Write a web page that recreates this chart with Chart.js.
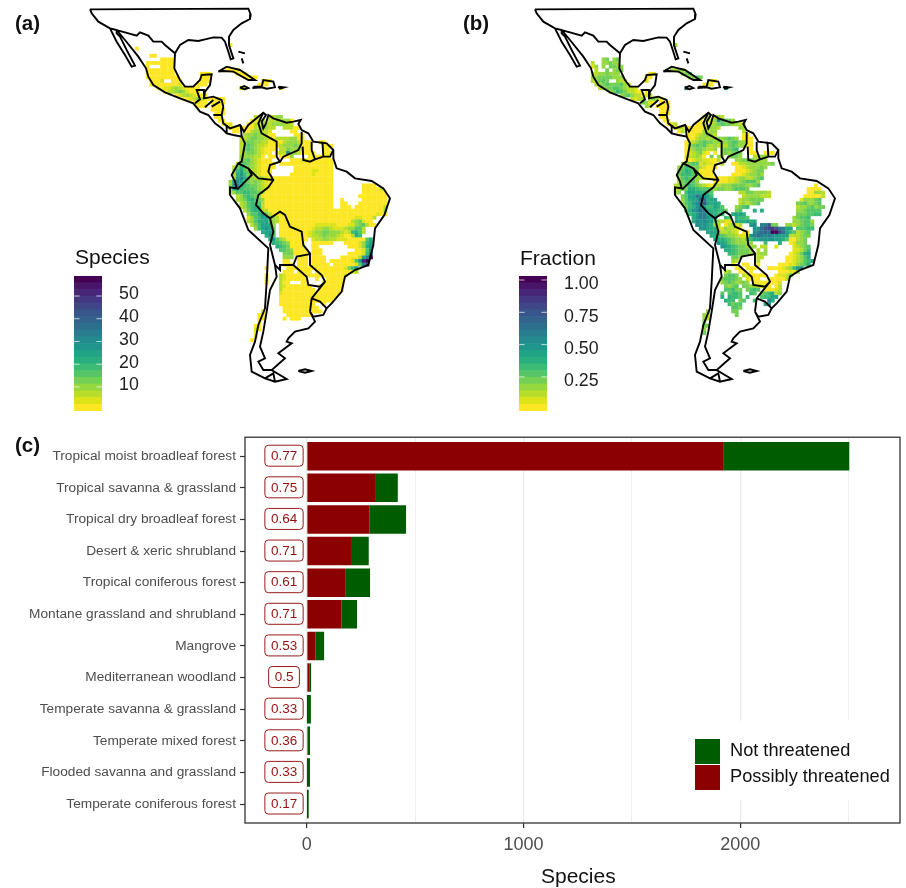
<!DOCTYPE html>
<html>
<head>
<meta charset="utf-8">
<title>Species maps and biomes</title>
<script src="https://cdn.jsdelivr.net/npm/chart.js@4"></script>
<style>
  body { margin: 0; background: #fff; width: 906px; height: 888px; position: relative; overflow: hidden; font-family: "Liberation Sans", Arial, sans-serif; }
  canvas { position: absolute; }
  .tag { position: absolute; font-weight: bold; font-size: 20.5px; line-height: 24px; color: #111; }
  .barTitle { position: absolute; font-size: 21px; line-height: 26px; color: #111; }
</style>
</head>
<body>
<canvas id="mapA" width="420" height="420" style="left:0;top:0"></canvas>
<canvas id="mapB" width="420" height="420" style="left:445px;top:0"></canvas>
<canvas id="barA" width="90" height="145" style="left:74px;top:270px"></canvas>
<canvas id="barB" width="90" height="145" style="left:519px;top:270px"></canvas>
<canvas id="biomes" width="906" height="463" style="left:0;top:425px"></canvas>
<div class="tag" style="left:15px;top:11px">(a)</div>
<div class="tag" style="left:463px;top:11px">(b)</div>
<div class="tag" style="left:15px;top:433px">(c)</div>
<div class="barTitle" style="left:75px;top:244px">Species</div>
<div class="barTitle" style="left:520px;top:245px">Fraction</div>
<div class="barTitle" style="left:541px;top:863px">Species</div>
<script>
// BAR PANEL DATA
let biomes = [
    'Tropical moist broadleaf forest', 'Tropical savanna & grassland', 'Tropical dry broadleaf forest',
    'Desert & xeric shrubland', 'Tropical coniferous forest', 'Montane grassland and shrubland',
    'Mangrove', 'Mediterranean woodland', 'Temperate savanna & grassland',
    'Temperate mixed forest', 'Flooded savanna and grassland', 'Temperate coniferous forest'
];
let possiblyThreatened = [1921, 315, 290, 204, 177, 161, 41, 11, 1, 5, 1, 1];
let notThreatened = [582, 105, 168, 82, 115, 71, 39, 9, 18, 10, 14, 8];
let fractions = ['0.77', '0.75', '0.64', '0.71', '0.61', '0.71', '0.53', '0.5', '0.33', '0.36', '0.33', '0.17'];
let speciesTicks = [0, 500, 1000, 1500, 2000, 2500];

// COLOUR BAR DATA
let viridis = ['#FDE725','#DCE319','#B8DE29','#95D840','#73D055','#55C667','#3CBB75','#29AF7F','#20A387','#1F968B',
               '#238A8D','#287D8E','#2D708E','#33638D','#39568C','#404788','#453781','#482677','#481568','#440154'];
let speciesLegendTicks = [10, 20, 30, 40, 50];
let fractionLegendTicks = [0.25, 0.5, 0.75, 1];

// MAP OUTLINES, null breaks a line
let coast = [
    [270,28],[745,26],[752,43],[750,57],[725,70],[700,90],[687,110],[687,135],[700,175],[692,178],[685,155],[675,125],[665,113],[640,112],[615,118],[595,123],[565,120],[540,135],[525,160],[495,135],[485,125],[460,125],[445,107],[420,97],[410,107],[375,97],[330,85],[295,65],[275,40],[270,28],null,
    [350,90],[375,120],[415,170],[438,205],[445,230],[460,255],[495,277],[540,295],[580,310],[600,335],[625,345],[645,370],[665,385],[680,400],[700,405],[725,410],[735,430],[725,485],[715,490],[695,525],[705,545],[710,565],[690,562],[690,585],[720,625],[745,690],[805,745],[800,845],[795,925],[775,975],[765,1025],[750,1065],[755,1115],[795,1135],[825,1145],[860,1137],[815,1110],[855,1075],[835,1060],[875,1030],[860,1025],[865,1015],[885,995],[925,985],[945,965],[930,935],[940,950],[970,945],[980,925],[995,910],[1025,875],[1035,830],[1065,810],[1105,795],[1120,735],[1125,685],[1153,645],[1170,595],[1150,565],[1115,543],[1065,535],[1040,515],[1010,505],[1000,475],[1000,450],[980,430],[940,425],[925,400],[905,390],[895,372],[902,360],[880,365],[860,368],[820,355],[805,345],[798,370],[790,385],[785,365],[798,345],[790,338],[775,350],[745,375],[732,395],[720,375],[690,385],[670,370],[665,345],[670,320],[665,300],[640,290],[612,295],[615,275],[630,255],[635,223],[605,225],[600,240],[580,260],[555,260],[540,240],[523,205],[525,160],null,
    [330,85],[350,125],[375,165],[395,200],[405,197],[380,150],[360,110],[350,100],[350,90],[330,85],null,
    [655,215],[680,200],[720,210],[765,240],[745,240],[700,215],[670,213],[655,215],null,
    [760,260],[785,260],[790,240],[820,245],[825,262],[800,266],[785,262],[760,264],[760,260],null,
    [720,263],[733,258],[745,264],[733,268],[720,263],null,
    [835,260],[853,262],[840,266],[835,260],null,
    [715,155],[735,160],null,[725,175],[730,190],null,
    [895,1113],[915,1108],[935,1113],[915,1118],[895,1113]
];
let borders = [
    [585,310],[600,298],[590,270],[612,270],[612,295],null,
    [615,322],[640,300],null,[635,320],[660,305],null,[640,345],[665,345],null,[680,375],[680,400],null,[722,376],[725,410],null,
    [790,338],[775,370],[785,400],[830,425],[830,470],[840,485],[810,495],[805,515],[820,540],[805,562],[775,585],[768,615],[790,640],[810,655],[840,635],[855,645],[870,680],[905,695],[910,735],[930,760],[930,795],[965,825],[975,845],[960,860],[925,855],[920,830],[880,795],[840,795],[840,810],[825,795],[810,735],[820,695],[810,655],null,
    [715,490],[745,505],[755,525],[730,550],[712,568],null,[745,505],[775,535],[820,540],null,
    [880,795],[890,770],[925,763],[930,760],null,
    [825,795],[830,830],[810,870],[800,935],[790,995],[780,1040],[795,1075],[775,1085],[790,1110],[815,1110],null,
    [975,845],[935,895],[930,935],null,[935,895],[960,905],[980,925],null,
    [795,1135],[820,1120],[825,1145],null,
    [840,485],[850,470],[895,450],[905,430],[905,395],null,
    [908,440],[910,480],[930,485],[945,478],[970,470],[990,470],[1000,450],null,[945,478],[935,450],[935,425],null,[970,470],[968,435],[965,425]
];

// GRID CELLS as [row, first column, bin per cell], bins index the viridis list
let speciesCells = [
    [0,27,'0'],[1,1,'0'],[3,5,'00'],[4,8,'0000'],[5,4,'00000000'],[6,4,'0'],[6,8,'0000'],[7,4,'00000000'],
    [8,4,'00000000'],[9,4,'000000000'],[10,5,'0001'],[10,11,'000'],[11,5,'000000001'],[12,7,'001123210000'],[13,9,'0223431000'],[14,12,'012321000'],
    [15,14,'001232000'],[15,23,'000'],[16,17,'0100'],[16,22,'0000'],[17,18,'000'],[17,22,'000'],[18,22,'0000'],[19,23,'000'],[20,23,'00'],[21,24,'00'],
    [22,25,'001'],[23,27,'00'],[23,29,'000'],[24,28,'00'],
    [7,26,'0000'],[8,29,'000'],[9,31,'0000'],[10,36,'000'],[11,35,'000'],[12,30,'11'],[12,41,'0'],[8,19,'000'],[9,19,'000'],[10,19,'000'],[11,18,'000'],
    [20,34,'22'],[20,38,'2233'],[21,33,'0022'],[21,38,'2232330'],[22,32,'00223'],[22,37,'22333322'],[23,31,'0002233'],[23,38,'22'],[23,42,'22200'],
    [24,31,'0023322'],[24,38,'1'],[24,44,'00'],[25,31,'2334322'],[25,38,'00'],[25,45,'000'],[26,30,'1234433220'],[26,40,'222233'],[26,46,'00'],
    [27,30,'23443322000'],[27,41,'023332'],[27,47,'000'],[27,52,'00'],[28,30,'23543221000'],[28,41,'2333430'],[28,47,'000'],[28,53,'000'],
    [29,30,'2454321000'],[29,41,'2243332'],[29,48,'00'],[29,53,'00'],[30,30,'23443210'],[30,38,'0'],[30,40,'022a3320'],[30,48,'000'],[30,53,'000'],
    [31,30,'3333220'],[31,38,'00'],[31,41,'0003'],[31,49,'000000'],[32,30,'345321000'],[32,44,'000110000000'],[33,29,'25543210000'],[33,41,'00'],[33,43,'0000000000000'],
    [34,28,'2475432100'],[34,38,'00'],[34,45,'00000000000'],[35,28,'3685422100'],[35,38,'0'],[35,45,'00000110000'],[36,28,'2796432100'],[36,38,'0'],[36,44,'000000100000'],
    [37,28,'28a7532321'],[37,38,'000000000000000000'],[38,27,'38a85434321'],[38,38,'000000000000000000'],[39,27,'39b86544321'],[39,38,'000000000000000000'],[39,64,'0000'],
    [40,27,'28865554322'],[40,38,'000000000000000000'],[40,64,'000002'],[41,27,'235566554300'],[41,39,'00000000000000000'],[41,64,'0000000'],
    [42,29,'2356543'],[42,36,'00000000000000000000'],[42,63,'00000000'],[43,29,'23467543'],[43,37,'0000000000000000000'],[43,58,'0'],[43,64,'0000000'],
    [44,30,'2356652'],[44,37,'0000000000000000000'],[44,58,'00'],[44,63,'00000000'],[45,30,'2356762'],[45,37,'0000000000000000000'],[45,58,'000'],[45,62,'000000002'],
    [46,31,'2467722'],[46,38,'0000000000000000000'],[46,57,'000000'],[46,63,'00000003'],[47,32,'35578420'],[47,40,'0000000000000000000000000000100'],[48,32,'135688532'],[48,41,'00000000000000000000011000'],[48,67,'2'],
    [49,32,'2357785'],[49,39,'32'],[49,41,'00000000000000000000234100'],[50,33,'246888'],[50,39,'3'],[50,41,'000000000011111100011345200'],
    [51,34,'36898'],[51,39,'4'],[51,41,'000000000122332111233552'],[52,36,'789'],[52,39,'5'],[52,41,'000000001233443332126752'],[53,37,'79'],[53,39,'5'],[53,41,'00000000122343332100276'],
    [54,38,'79'],[54,40,'532'],[54,43,'000000'],[54,50,'12233221110000057'],[55,39,'76543'],[55,44,'0000'],[55,50,'000000'],[55,59,'00001368'],[56,40,'7654'],[56,44,'0000'],[56,50,'00'],[56,60,'0001379'],
    [57,41,'5543'],[57,45,'0000'],[57,50,'000'],[57,62,'0015a'],[58,42,'444'],[58,45,'0000'],[58,50,'000'],[58,60,'000016b'],[59,42,'333'],[59,46,'000'],[59,50,'0000'],[59,58,'0000028bj'],[60,42,'00'],[60,46,'000'],[60,50,'0000'],[60,55,'000000159hj'],
    [61,42,'000'],[61,46,'000'],[61,50,'00000'],[61,56,'00000015ae'],[62,43,'0000'],[62,47,'000'],[62,50,'000'],[62,53,'0000001469'],[63,42,'000'],[63,46,'0000'],[63,51,'000000000012'],[64,41,'2100000000'],[64,51,'000000001'],
    [65,41,'21000000'],[65,51,'0'],[65,54,'00000'],[66,41,'200'],[66,47,'00'],[66,53,'000000'],[67,41,'210000000'],[67,52,'0000000'],
    [68,41,'2000000000'],[68,52,'0000000'],[69,41,'100000000'],[69,50,'00000000'],[70,41,'0000000000'],[70,50,'0000000'],[71,41,'00000000000'],[71,50,'000000'],
    [72,41,'0000000000'],[72,53,'0'],[73,42,'000000000'],[73,51,'0'],[74,42,'0000000000'],[74,51,'00'],[75,43,'0000000'],[76,42,'0'],[76,44,'000'],
    [74,36,'0'],[75,35,'00'],[76,35,'00'],[77,35,'0'],[78,34,'00'],[79,34,'10'],[80,34,'0'],[81,34,'0'],[82,33,'0'],[62,37,'0'],[64,37,'0'],[65,37,'1'],[66,37,'0']
];
let fractionCells = [
    [0,27,'3'],[4,7,'34'],[4,10,'34'],[5,4,'2'],[5,7,'33433'],[6,4,'13'],[6,7,'3'],[6,9,'4433'],[7,5,'2'],[7,8,'4'],[7,10,'344'],[8,4,'22334'],[8,9,'333'],
    [9,4,'33444'],[9,9,'4333'],[10,4,'2345'],[10,8,'4'],[10,11,'322'],[11,5,'234544'],[11,11,'4532'],[12,6,'2344554'],[12,13,'3221'],[13,9,'34654'],[13,14,'2210'],[13,19,'0'],[14,12,'3453'],[14,16,'22012'],
    [15,15,'2123'],[15,20,'343'],[15,23,'0'],[16,18,'4310'],[16,23,'000'],[17,19,'32'],[17,22,'0000'],[18,23,'000'],[19,23,'000'],[20,23,'00'],[21,24,'01'],[22,25,'012'],[23,27,'032'],[23,30,'00'],[24,28,'02'],
    [7,26,'3243'],[8,29,'345'],[9,31,'3454'],[10,37,'00'],[11,35,'0'],[11,36,'20'],[12,30,'b'],[12,41,'7'],[8,20,'01'],[9,19,'00'],[10,19,'1'],
    [20,35,'23'],[20,38,'232'],[21,34,'0'],[21,36,'11'],[21,38,'3b5543'],[22,33,'002'],[22,37,'2345443322'],[23,32,'000123'],[23,38,'32'],[23,45,'33'],[24,31,'0000323'],[24,38,'3'],[24,46,'2'],
    [25,31,'0012343'],[25,38,'2'],[25,46,'00'],[26,31,'00233'],[26,36,'2334'],[26,40,'34543'],[26,46,'000'],[27,30,'0123454'],[27,37,'4333'],[27,41,'3455'],[27,45,'33'],[27,47,'00'],[28,30,'0345453'],[28,37,'2322'],[28,41,'2454'],[28,45,'33'],[28,47,'00'],
    [29,30,'0234432'],[29,37,'23'],[29,40,'34456'],[29,48,'0'],[30,30,'0123410'],[30,38,'0'],[30,40,'343'],[30,43,'444'],[30,48,'00'],[30,52,'000'],[31,30,'122320'],[31,37,'4'],[31,39,'32'],[31,42,'3443'],[31,49,'2233'],
    [32,30,'00122110'],[32,38,'02'],[32,44,'33'],[32,46,'4443333'],[33,29,'23455'],[33,34,'12110'],[33,40,'2'],[33,43,'002233333334'],[34,28,'346544'],[34,34,'2100'],[34,38,'0'],[34,44,'001233343'],[35,28,'457654'],[35,34,'0000'],[35,44,'00012344'],
    [36,28,'466654'],[36,34,'1000'],[36,43,'000123343'],[37,28,'356543'],[37,34,'2100'],[37,38,'00001123322345'],[38,28,'245553'],[38,38,'0000112345553'],[39,27,'2345654'],[39,34,'3210'],[39,38,'2233344443345'],[39,66,'0'],
    [40,27,'2344'],[40,31,'77655'],[40,36,'54'],[40,38,'3443345554'],[40,64,'0000'],[41,27,'33'],[41,30,'6887776'],[41,37,'5'],[41,45,'2244'],[41,49,'33332'],[41,64,'00332'],[42,29,'4588ba9'],[42,36,'86'],[42,46,'23333'],[42,51,'222'],[42,63,'000002'],
    [43,29,'35788'],[43,34,'dc7'],[43,37,'88'],[43,45,'2334444'],[43,62,'133345'],[44,29,'3568'],[44,33,'abe8'],[44,37,'787'],[44,45,'232345'],[44,61,'4453345'],[45,30,'4679'],[45,34,'b8'],[45,36,'66875'],[45,44,'3456'],[45,61,'23345344'],
    [46,30,'579'],[46,33,'acb'],[46,36,'877664'],[46,44,'45'],[46,49,'7'],[46,51,'7'],[46,61,'3345555'],[47,31,'678bb8'],[47,37,'7766'],[47,43,'7887'],[47,61,'4445566'],[48,32,'79bb9'],[48,37,'88'],[48,41,'65'],[48,44,'7665'],[48,60,'34556'],
    [49,32,'7a9a98'],[49,38,'532'],[49,41,'11'],[49,44,'8778'],[49,48,'77'],[49,60,'33455'],[49,65,'3'],[50,33,'a9987'],[50,38,'32'],[50,41,'0231'],[50,45,'2'],[50,48,'9a'],[50,51,'bbe'],[50,54,'44'],[50,58,'3323'],[50,62,'4554'],
    [51,34,'99877'],[51,39,'2'],[51,40,'13221'],[51,45,'0'],[51,49,'99cefge'],[51,56,'cb88'],[51,61,'55566'],[52,36,'888'],[52,39,'5'],[52,40,'22321'],[52,46,'00'],[52,49,'abcdcjjfc'],[52,58,'865'],[52,61,'2345'],
    [53,37,'77'],[53,39,'65'],[53,41,'4332'],[53,45,'111'],[53,48,'9bcbab'],[53,54,'99888'],[53,59,'2'],[53,60,'22344'],[54,38,'87'],[54,40,'765'],[54,43,'4332'],[54,47,'66889'],[54,52,'9998875'],[54,59,'00234'],
    [55,39,'9875'],[55,43,'43333'],[55,48,'3'],[55,52,'6'],[55,56,'7'],[55,59,'01334'],[56,40,'98765'],[56,45,'44333'],[56,51,'22'],[56,55,'1'],[56,60,'12345'],[57,41,'7765'],[57,45,'4443'],[57,50,'2'],[57,52,'3'],[57,60,'11246'],[58,42,'6654'],[58,46,'443'],[58,50,'233'],[58,59,'012478'],
    [59,43,'443'],[59,50,'22'],[59,58,'0012357'],[60,43,'32'],[60,50,'2'],[60,58,'00123568'],[61,43,'0'],[61,46,'00'],[61,50,'0'],[61,56,'000113457'],[62,44,'01'],[62,47,'000'],[62,53,'000012369a'],[63,41,'23'],[63,45,'00'],[63,48,'0'],[63,56,'000113'],
    [64,41,'4554'],[64,46,'2100'],[64,50,'000'],[64,55,'01124'],[65,40,'4555'],[65,44,'43'],[65,47,'1000'],[65,53,'000'],[65,56,'002'],[66,40,'3454'],[66,44,'3343'],[66,49,'0000'],[66,53,'00'],[66,55,'01'],[67,41,'4345'],[67,46,'44332100'],[67,55,'02'],
    [68,41,'55644'],[68,47,'4565'],[68,52,'00012'],[69,40,'5'],[69,42,'5665'],[69,48,'65'],[69,51,'4567'],[69,55,'23'],[70,40,'7'],[70,42,'7665'],[70,47,'6'],[70,51,'56688'],[71,41,'766'],[71,45,'45'],[71,49,'6'],[71,53,'a7'],[72,42,'6455'],[72,52,'89'],[73,43,'554'],[74,43,'44'],[75,44,'4'],
    [74,36,'3'],[75,35,'32'],[76,35,'32'],[77,35,'4'],[78,35,'44'],[79,35,'3'],[80,35,'4']
];

// PLOT SCALE OF THE MAPS
let mapSize = 1260;
let cellStep = 10.8;
let firstCellX = 400;
let firstCellY = 135;

function linePoints(path) {
    return path.map(function (p) { return p ? { x: p[0], y: p[1] } : { x: null, y: null }; });
}

function cellPoints(cells) {
    let points = [];
    cells.forEach(function (seg) {
        for (let i = 0; i < seg[2].length; i++) {
            points.push({ x: firstCellX + (seg[1] + i) * cellStep, y: firstCellY + seg[0] * cellStep, bin: parseInt(seg[2][i], 20) });
        }
    });
    return points;
}

function drawMap(id, cells) {
    new Chart(document.querySelector(id), {
        type: 'scatter',
        data: {
            datasets: [
                { data: linePoints(coast), showLine: true, pointRadius: 0, borderColor: '#000', borderWidth: 1.9, order: 0 },
                { data: linePoints(borders), showLine: true, pointRadius: 0, borderColor: '#000', borderWidth: 1.9, order: 0 },
                {
                    data: cellPoints(cells), pointStyle: 'rect', pointRadius: 2.75, borderWidth: 0, order: 1,
                    backgroundColor: function (c) { return viridis[c.raw ? c.raw.bin : 0]; }
                }
            ]
        },
        options: {
            responsive: false, animation: false,
            layout: { padding: 0, autoPadding: false },
            plugins: { legend: { display: false }, tooltip: { enabled: false } },
            scales: {
                x: { display: false, min: 0, max: mapSize },
                y: { display: false, min: 0, max: mapSize, reverse: true }
            }
        }
    });
}

// white notches on the colour bar at each tick
let barNotches = {
    id: 'barNotches',
    afterDatasetsDraw: function (chart) {
        let ctx = chart.ctx, a = chart.chartArea, y = chart.scales.y;
        ctx.save();
        ctx.strokeStyle = '#fff';
        ctx.lineWidth = 0.7;
        y.ticks.forEach(function (t) {
            let py = y.getPixelForValue(t.value);
            ctx.beginPath();
            ctx.moveTo(a.left, py); ctx.lineTo(a.left + 5.6, py);
            ctx.moveTo(a.right - 5.6, py); ctx.lineTo(a.right, py);
            ctx.stroke();
        });
        ctx.restore();
    }
};

function drawColourBar(id, tickList, low, high, decimals, labelShift) {
    let step = (high - low) / viridis.length;
    new Chart(document.querySelector(id), {
        type: 'bar',
        data: {
            labels: [''],
            datasets: viridis.map(function (col, i) {
                return { data: [[low + i * step, low + (i + 1) * step]], backgroundColor: col, grouped: false, barPercentage: 1, categoryPercentage: 1 };
            })
        },
        options: {
            responsive: false, animation: false,
            layout: { padding: { top: 6, bottom: 4 } },
            plugins: { legend: { display: false }, tooltip: { enabled: false } },
            scales: {
                x: { display: false },
                y: {
                    position: 'right', min: low, max: high,
                    border: { display: false },
                    grid: { display: false },
                    afterFit: function (s) { s.width = 62; s.paddingTop = 0; s.paddingBottom = 0; },
                    afterBuildTicks: function (s) { s.ticks = tickList.map(function (v) { return { value: v }; }); },
                    ticks: {
                        padding: 9, color: '#222', labelOffset: labelShift, font: { family: 'Liberation Sans', size: 17.8 },
                        callback: function (v) { return v.toFixed(decimals); }
                    }
                }
            }
        },
        plugins: [barNotches]
    });
}

// panel frame, fraction labels and the legend box
let biomeExtras = {
    id: 'biomeExtras',
    afterDatasetsDraw: function (chart) {
        let ctx = chart.ctx, a = chart.chartArea, xs = chart.scales.x, ys = chart.scales.y;
        ctx.save();

        ctx.font = '13.5px "Liberation Sans"';
        ctx.textAlign = 'center';
        ctx.textBaseline = 'middle';
        fractions.forEach(function (txt, i) {
            let px = xs.getPixelForValue(-105), py = ys.getPixelForValue(i + 1) - 0.5;
            let w = ctx.measureText(txt).width + 12;
            ctx.fillStyle = '#fff';
            ctx.strokeStyle = '#8B0000';
            ctx.lineWidth = 0.9;
            ctx.beginPath();
            ctx.roundRect(px - w / 2, py - 10.5, w, 21, 3.5);
            ctx.fill();
            ctx.stroke();
            ctx.fillStyle = '#961010';
            ctx.fillText(txt, px, py + 0.5);
        });

        ctx.fillStyle = '#fff';
        ctx.fillRect(685, 720.7 - 425, 212, 79.5);
        let rows = [chart.data.datasets[1], chart.data.datasets[0]];
        ctx.textAlign = 'left';
        ctx.font = '18.2px "Liberation Sans"';
        rows.forEach(function (ds, i) {
            let top = 739 - 425 + i * 26;
            ctx.fillStyle = ds.backgroundColor;
            ctx.fillRect(695, top, 25, 25);
            ctx.fillStyle = '#111';
            ctx.fillText(ds.label, 730, top + 12 - i * 0.5);
        });

        ctx.strokeStyle = '#333';
        ctx.lineWidth = 1.3;
        ctx.strokeRect(a.left, a.top, a.right - a.left, a.bottom - a.top);
        ctx.restore();
    }
};

function biomePoints(values) {
    return values.map(function (v, i) { return { x: v, y: i + 1 }; });
}

function drawBiomes() {
    new Chart(document.querySelector('#biomes'), {
        type: 'bar',
        data: {
            datasets: [
                { label: 'Possibly threatened', data: biomePoints(possiblyThreatened), backgroundColor: '#8B0000', barPercentage: 0.9, categoryPercentage: 1 },
                { label: 'Not threatened', data: biomePoints(notThreatened), backgroundColor: '#005C00', barPercentage: 0.9, categoryPercentage: 1 }
            ]
        },
        options: {
            indexAxis: 'y',
            responsive: false, animation: false,
            layout: { padding: { top: 11, right: 6 } },
            plugins: { legend: { display: false }, tooltip: { enabled: false } },
            scales: {
                x: {
                    type: 'linear', stacked: true, min: -285, max: 2737,
                    afterFit: function (s) { s.height = 65; },
                    afterBuildTicks: function (s) { s.ticks = speciesTicks.map(function (v) { return { value: v }; }); },
                    border: { display: false },
                    grid: {
                        color: '#EBEBEB', tickLength: 5,
                        lineWidth: function (c) { return c.tick && c.tick.value % 1000 === 0 ? 1.2 : 0.8; },
                        tickColor: function (c) { return c.tick && c.tick.value % 1000 === 0 ? '#333' : 'rgba(0,0,0,0)'; },
                        tickWidth: 1.2
                    },
                    ticks: {
                        padding: 6, color: '#4D4D4D', maxRotation: 0, font: { family: 'Liberation Sans', size: 18 },
                        callback: function (v) { return v % 1000 === 0 ? String(v) : ''; }
                    }
                },
                y: {
                    type: 'linear', stacked: true, reverse: true, min: 0.4, max: 12.6,
                    offset: false,
                    afterFit: function (s) { s.width = 245; },
                    afterBuildTicks: function (s) { s.ticks = biomes.map(function (b, i) { return { value: i + 1 }; }); },
                    border: { display: false },
                    grid: { offset: false, drawOnChartArea: false, tickLength: 5, tickColor: '#333', tickWidth: 1.2 },
                    ticks: {
                        padding: 4, color: '#4D4D4D', autoSkip: false, font: { family: 'Liberation Sans', size: 13.7 },
                        callback: function (v) { return biomes[v - 1]; }
                    }
                }
            }
        },
        plugins: [biomeExtras]
    });
}

function pageLoaded() {
    drawMap('#mapA', speciesCells);
    drawMap('#mapB', fractionCells);
    drawColourBar('#barA', speciesLegendTicks, -0.6, 58.8, 0, -1.5);
    drawColourBar('#barB', fractionLegendTicks, -0.014, 1.031, 2, 4.5);
    drawBiomes();
}

window.addEventListener('load', pageLoaded);
</script>
</body>
</html>
